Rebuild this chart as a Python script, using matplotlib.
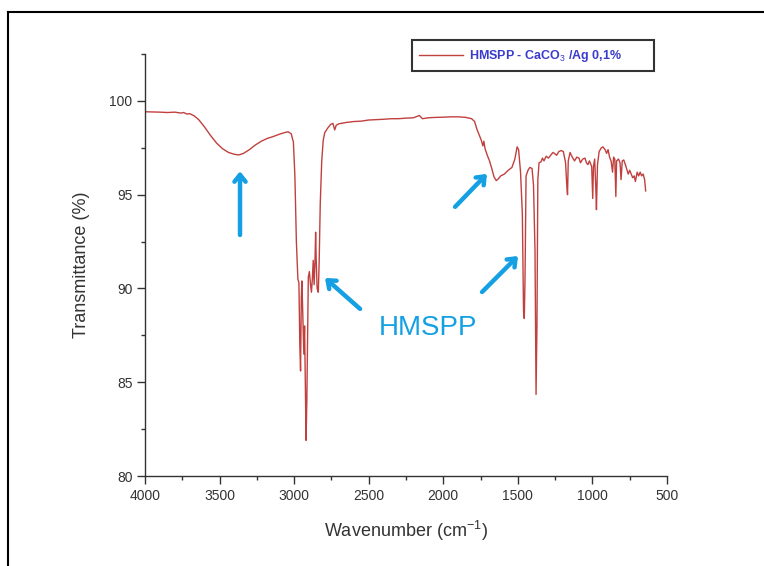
import numpy as np
import matplotlib
matplotlib.use("Agg")
import matplotlib.pyplot as plt
from matplotlib.ticker import MultipleLocator
from matplotlib.lines import Line2D

plt.rcParams['font.family'] = ['Liberation Sans', 'DejaVu Sans']
plt.rcParams['mathtext.fontset'] = 'custom'
plt.rcParams['mathtext.rm'] = 'Liberation Sans'
plt.rcParams['mathtext.bf'] = 'Liberation Sans:bold'

# FTIR spectrum (wavenumber cm-1, transmittance %)
wavenumber = [
    4000, 3900, 3850, 3800, 3760, 3740, 3720, 3700, 3670, 3640, 3600, 3560,
    3520, 3480, 3440, 3400, 3370, 3340, 3300, 3260, 3220, 3180, 3140, 3100,
    3060, 3040, 3020, 3005, 2995, 2985, 2975, 2968, 2962, 2957, 2952, 2948,
    2942, 2935, 2930, 2925, 2920, 2915, 2905, 2898, 2890, 2884, 2878, 2872,
    2866, 2860, 2856, 2852, 2846, 2838, 2832, 2825, 2815, 2805, 2795, 2775,
    2755, 2740, 2728, 2718, 2700, 2650, 2600, 2550, 2500, 2450, 2400, 2350,
    2300, 2250, 2200, 2160, 2140, 2100, 2050, 2000, 1950, 1900, 1850, 1810,
    1790, 1775, 1760, 1745, 1735, 1728, 1720, 1705, 1690, 1675, 1660, 1645,
    1630, 1615, 1590, 1565, 1540, 1520, 1505, 1495, 1482, 1470, 1462, 1457,
    1452, 1445, 1432, 1420, 1405, 1395, 1385, 1378, 1372, 1366, 1358, 1345,
    1335, 1325, 1310, 1295, 1280, 1265, 1255, 1240, 1225, 1210, 1195, 1180,
    1172, 1167, 1162, 1150, 1135, 1120, 1105, 1090, 1080, 1065, 1050, 1040,
    1030, 1020, 1005, 998, 993, 985, 978, 973, 966, 955, 940, 930,
    915, 905, 895, 885, 875, 865, 858, 850, 843, 838, 825, 815,
    808, 800, 790, 775, 760, 750, 740, 730, 720, 712, 700, 690,
    680, 670, 660, 650, 643,
]
transmittance = [
    99.42, 99.40, 99.38, 99.40, 99.35, 99.38, 99.30, 99.32, 99.20, 99.00, 98.60, 98.15,
    97.75, 97.45, 97.25, 97.15, 97.12, 97.20, 97.40, 97.65, 97.85, 98.00, 98.10, 98.22,
    98.32, 98.35, 98.25, 97.80, 96.00, 92.50, 90.50, 90.30, 87.00, 85.60, 89.50, 90.40,
    88.50, 86.50, 88.00, 85.00, 81.90, 84.00, 90.60, 90.90, 90.20, 89.80, 90.50, 91.50,
    90.20, 91.50, 93.00, 91.50, 90.00, 89.80, 91.50, 94.50, 96.80, 97.90, 98.30, 98.55,
    98.75, 98.80, 98.45, 98.70, 98.78, 98.85, 98.90, 98.92, 98.98, 99.00, 99.02, 99.05,
    99.05, 99.08, 99.10, 99.22, 99.05, 99.10, 99.12, 99.13, 99.15, 99.15, 99.12, 99.05,
    98.90, 98.50, 98.20, 97.90, 97.60, 97.85, 97.45, 97.10, 96.80, 96.40, 95.95, 95.75,
    95.85, 96.00, 96.10, 96.30, 96.45, 96.90, 97.55, 97.40, 96.20, 94.00, 88.80, 88.40,
    90.50, 96.00, 96.30, 96.45, 96.40, 95.50, 92.00, 84.35, 88.00, 95.80, 96.70, 96.75,
    96.95, 96.80, 97.05, 96.95, 97.10, 97.25, 97.20, 97.10, 97.30, 97.35, 97.30, 96.70,
    95.50, 95.00, 96.80, 97.25, 97.00, 96.80, 97.00, 96.95, 96.70, 96.90, 96.95, 96.70,
    96.60, 96.80, 96.50, 94.80, 96.50, 96.90, 95.50, 94.20, 96.60, 97.30, 97.50, 97.55,
    97.40, 97.20, 97.40, 97.00, 96.80, 96.20, 97.00, 96.90, 94.90, 96.80, 96.90, 96.70,
    95.80, 96.80, 96.85, 96.50, 96.10, 96.30, 96.10, 95.90, 96.00, 95.70, 96.20, 96.00,
    96.20, 96.00, 96.10, 95.80, 95.20,
]

series_label = r'HMSPP - CaCO$_3$ /Ag 0,1%'
annotation_text = 'HMSPP'
# arrows: (tail x, tail y, head x, head y) in data units
arrows = [
    (3363, 92.85, 3363, 96.25),
    (2558, 88.91, 2793, 90.56),
    (1921, 94.35, 1707, 96.11),
    (1740, 89.81, 1499, 91.73),
]

line_color = '#c0403e'
arrow_color = '#14a0e2'
axis_color = '#333333'

fig = plt.figure(figsize=(7.64, 5.66), dpi=100)
ax = fig.add_axes([145 / 764, 1 - 476 / 566, 522 / 764, 422 / 566])

ax.plot(wavenumber, transmittance, color=line_color, lw=1.0, label=series_label)

ax.set_xlim(4000, 500)
ax.set_ylim(80, 102.5)
ax.xaxis.set_major_locator(MultipleLocator(500))
ax.xaxis.set_minor_locator(MultipleLocator(250))
ax.yaxis.set_major_locator(MultipleLocator(5))
ax.yaxis.set_minor_locator(MultipleLocator(2.5))

for side in ['top', 'right']:
    ax.spines[side].set_visible(False)
for side in ['left', 'bottom']:
    ax.spines[side].set_color(axis_color)
    ax.spines[side].set_linewidth(1.0)
ax.tick_params(which='major', length=6, width=1, color=axis_color,
               labelsize=10, labelcolor=axis_color, pad=3)
ax.tick_params(which='minor', length=3, width=1, color=axis_color)

ax.set_xlabel('Wavenumber (cm$^{-1}$)', fontsize=13, color=axis_color, labelpad=12)
ax.set_ylabel('Transmittance (%)', fontsize=13, color=axis_color, labelpad=14)

for x0, y0, x1, y1 in arrows:
    ax.annotate('', xy=(x1, y1), xytext=(x0, y0),
                arrowprops=dict(arrowstyle='->,head_length=0.5,head_width=0.4',
                                color=arrow_color, lw=3.2, shrinkA=0, shrinkB=0))
ax.text(2102, 87.9, annotation_text, color=arrow_color, fontsize=20,
        ha='center', va='center')

leg = fig.legend(loc='upper left', bbox_to_anchor=(412 / 764, 1 - 41 / 566, 242 / 764, 0.001),
                 mode='expand', frameon=True, fancybox=False, fontsize=9,
                 handlelength=3.5, borderpad=0.6, handletextpad=0.5,
                 borderaxespad=0)
leg.get_frame().set_edgecolor('black')
leg.get_frame().set_linewidth(1.5)
for t in leg.get_texts():
    t.set_color('#3b3bcc')
    t.set_fontweight('bold')

# outer frame of the original figure
fig.add_artist(Line2D([8 / 764, 8 / 764], [0, 1 - 12 / 566], transform=fig.transFigure,
                      color='black', lw=1.5))
fig.add_artist(Line2D([8 / 764, 1], [1 - 12 / 566, 1 - 12 / 566], transform=fig.transFigure,
                      color='black', lw=1.5))

fig.savefig('out.png', dpi=100)
